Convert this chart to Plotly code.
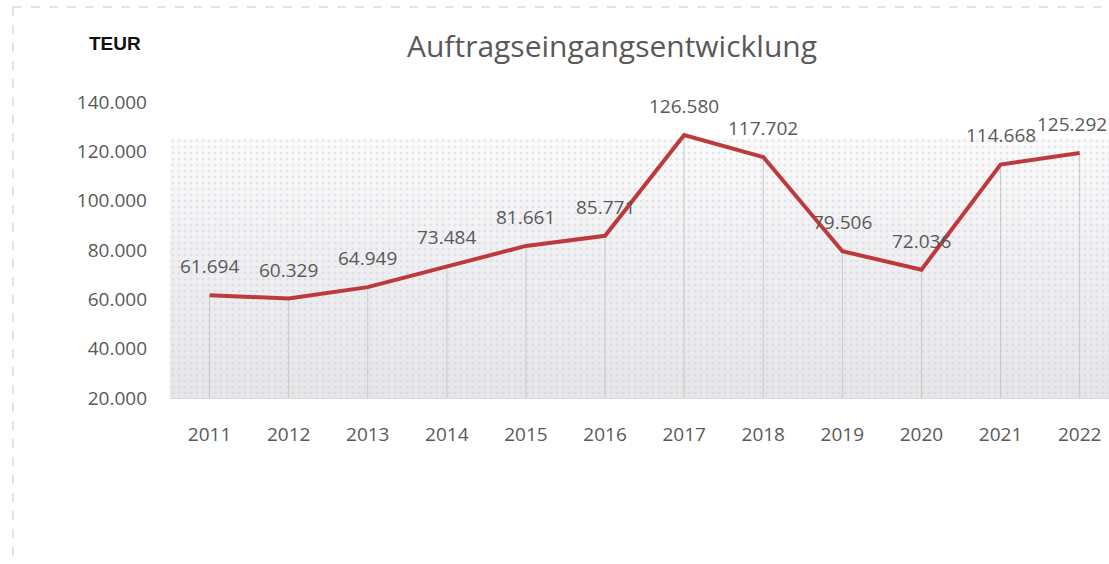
import plotly.graph_objects as go

years = ["2011", "2012", "2013", "2014", "2015", "2016", "2017", "2018", "2019", "2020", "2021", "2022"]
values = [61694, 60329, 64949, 73484, 81661, 85771, 126580, 117702, 79506, 72036, 114668, 119300]
labels = ["61.694", "60.329", "64.949", "73.484", "81.661", "85.771", "126.580", "117.702", "79.506", "72.036", "114.668", "125.292"]
band_top = 125300
y_ticks = [20000, 40000, 60000, 80000, 100000, 120000, 140000]
y_min, y_max = 20000, 140000

TXT = "#595959"
FONT = "Open Sans"
xs = list(range(len(years)))
band_x = [-0.5, len(years) - 0.5]

fig = go.Figure()

# gradient background band (Excel-like dithered fill)
fig.add_trace(go.Scatter(
    x=band_x, y=[band_top, band_top],
    mode="lines", line=dict(width=0, color="rgba(0,0,0,0)"),
    fill="tozeroy",
    fillgradient=dict(type="vertical", start=y_min, stop=band_top,
                      colorscale=[[0, "#e6e6e8"], [0.5, "#efeff1"], [1, "#fbfbfc"]]),
    hoverinfo="skip", showlegend=False))
# faint dots on top
fig.add_trace(go.Scatter(
    x=band_x, y=[band_top, band_top],
    mode="lines", line=dict(width=0, color="rgba(0,0,0,0)"),
    fill="tozeroy", fillcolor="rgba(0,0,0,0)",
    fillpattern=dict(shape=".", size=6, solidity=0.2, fgcolor="rgba(200,200,215,0.8)",
                     bgcolor="rgba(0,0,0,0)", fillmode="overlay"),
    hoverinfo="skip", showlegend=False))

# drop lines
dx, dy = [], []
for x, v in zip(xs, values):
    dx += [x, x, None]
    dy += [v, y_min, None]
fig.add_trace(go.Scatter(x=dx, y=dy, mode="lines", line=dict(color="#c8c8c8", width=1),
                         hoverinfo="skip", showlegend=False))

# main line
fig.add_trace(go.Scatter(x=xs, y=values, mode="lines", line=dict(color="#BE3A3A", width=4),
                         showlegend=False))

for i, (x, v, t) in enumerate(zip(xs, values, labels)):
    fig.add_annotation(x=x, y=v, text=t, showarrow=False, yshift=29, yanchor="middle",
                       xshift=(-8 if i == len(xs) - 1 else 0),
                       font=dict(family=FONT, size=19, color=TXT))

fig.add_annotation(xref="paper", yref="paper", x=(612 - 170) / 939, y=1 + (102 - 45) / 296,
                   text="Auftragseingangsentwicklung", showarrow=False, xanchor="center", yanchor="middle",
                   font=dict(family=FONT, size=30, color=TXT))
fig.add_annotation(xref="paper", yref="paper", x=(115 - 170) / 939, y=1 + (102 - 44) / 296,
                   text="<b>TEUR</b>", showarrow=False, xanchor="center", yanchor="middle",
                   font=dict(family="Liberation Sans", size=19, color="#111111"))

# chart border (dashed)
fig.add_shape(type="line", xref="paper", yref="paper",
              x0=(13 - 170) / 939, x1=(13 - 170) / 939, y0=1 + (102 - 7) / 296, y1=1 - (570 - 102) / 296,
              line=dict(color="#c8c8c8", width=1, dash="dash"))
fig.add_shape(type="line", xref="paper", yref="paper",
              x0=(13 - 170) / 939, x1=1.01, y0=1 + (102 - 7) / 296, y1=1 + (102 - 7) / 296,
              line=dict(color="#c8c8c8", width=1, dash="dash"))

fig.update_layout(
    width=1109, height=564, autosize=False,
    margin=dict(l=170, r=0, t=102, b=166),
    paper_bgcolor="white", plot_bgcolor="white",
    separators=",.",
    showlegend=False,
    xaxis=dict(range=[-0.5, -0.5 + 939 / 79.1], tickvals=xs, ticktext=years,
               showgrid=False, zeroline=False, showline=True, linecolor="#d9d9d9", linewidth=1,
               ticks="", ticklabelstandoff=19,
               tickfont=dict(family=FONT, size=19, color=TXT)),
    yaxis=dict(range=[y_min, y_max], tickvals=y_ticks, tickformat=",d",
               showgrid=False, zeroline=False, showline=False, ticks="", ticklabelstandoff=22,
               tickfont=dict(family=FONT, size=19, color=TXT)),
)

fig.write_html("out.html", config={"displayModeBar": False},
               post_script="document.body.style.margin='0';document.body.style.overflow='hidden';")
